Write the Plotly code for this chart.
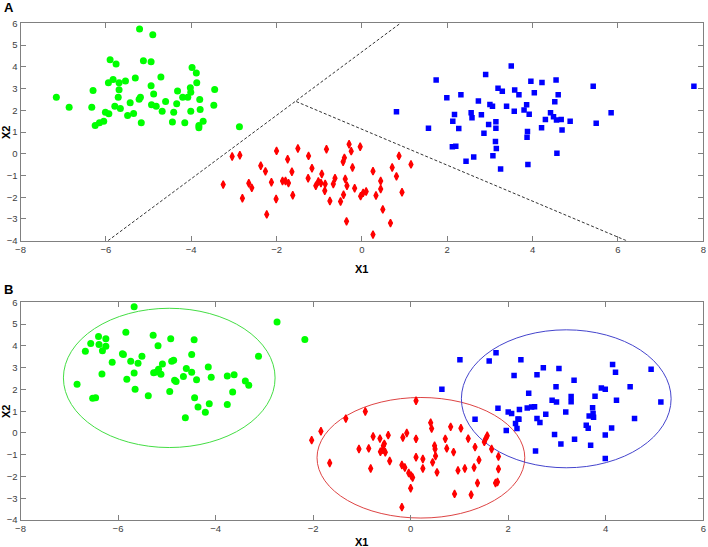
import plotly.graph_objects as go

# ---------------- Panel A data ----------------
a_green_x = [-7.16,-6.86,-6.30,-6.33,-6.25,-6.15,-6.05,-6.01,-5.93,-5.90,-5.76,-5.94,-5.83,-5.69,-5.54,-5.69,-5.71,-5.79,-5.66,-5.31,
             -5.43,-5.49,-5.35,-5.21,-4.90,-5.12,-4.94,-5.19,-5.22,-5.17,-4.94,-4.88,-4.93,-4.82,-4.71,-4.68,-4.60,-4.44,-4.41,-4.34,
             -4.32,-4.20,-4.15,-4.08,-4.02,-4.01,-3.98,-3.88,-3.87,-4.01,-3.80,-3.79,-3.72,-3.82,-3.82,-3.45,-3.47,-2.87]
a_green_y = [2.60,2.14,2.91,2.14,1.30,1.43,1.50,1.91,1.84,4.32,4.13,3.26,3.41,3.27,3.35,2.94,2.60,2.19,2.08,3.48,
             2.34,1.76,1.85,5.74,5.47,4.28,4.23,2.60,2.51,1.43,3.13,2.75,2.25,2.19,3.53,1.96,2.40,1.46,1.91,2.30,
             2.89,2.60,1.43,2.60,3.03,2.83,3.97,3.71,3.26,1.96,2.49,2.04,1.50,1.30,1.20,2.95,2.23,1.24]

a_red_x = [-3.25,-3.04,-2.86,-2.80,-2.65,-2.58,-2.37,-2.26,-2.23,-2.12,-2.00,-2.01,-1.86,-1.79,-1.72,-1.74,-1.64,-1.62,-1.50,-1.25,
           -1.17,-1.26,-1.08,-1.02,-0.94,-0.96,-0.86,-0.87,-0.83,-0.75,-0.67,-0.63,-0.50,-0.44,-0.41,-0.39,-0.43,-0.35,-0.30,-0.25,
           -0.22,-0.36,-0.17,-0.04,-0.03,0.03,0.10,0.26,0.33,0.26,0.44,0.44,0.49,0.67,0.71,0.81,0.87,0.94,1.15]
a_red_y = [-1.42,-0.13,-0.07,-2.05,-1.36,-1.57,-0.55,-0.81,-2.79,-1.31,0.13,-2.08,-1.25,-1.25,-1.35,-0.25,-0.83,-1.91,0.24,-0.10,
           -0.67,-1.13,-1.47,-1.28,-0.93,-1.35,-1.39,-1.70,0.21,-2.17,-1.39,-1.13,-2.20,-0.37,-0.19,-1.16,-1.89,-1.47,0.44,0.12,
           -0.63,-3.11,-1.59,0.32,-1.95,-1.80,-1.74,-0.80,-1.92,-3.72,-1.25,-1.62,-2.56,-3.19,-0.63,-1.04,-0.10,-1.77,-0.49]

a_blue_x = [0.81,1.56,1.74,1.99,2.13,2.17,2.27,2.12,2.20,2.32,2.44,2.62,2.56,2.58,2.73,2.80,2.90,2.86,2.97,3.00,
            3.06,3.07,3.14,3.14,3.13,3.15,3.19,3.29,3.25,3.39,3.50,3.58,3.57,3.68,3.80,3.86,3.92,3.88,3.87,3.89,
            3.96,4.04,4.22,4.21,4.30,4.42,4.49,4.56,4.67,4.52,4.60,4.55,4.69,4.57,4.88,5.42,5.49,5.84,7.78]
a_blue_y = [1.93,1.17,3.39,2.57,1.50,1.81,1.16,0.32,0.35,2.71,-0.35,-0.15,1.88,1.66,2.43,1.79,3.65,0.94,1.34,2.26,
            2.19,-0.09,1.47,1.17,0.56,0.24,3.01,2.87,-0.70,2.19,4.04,2.93,1.96,2.71,2.01,2.25,1.82,1.02,0.76,-0.50,
            3.34,2.81,3.28,1.20,1.57,1.88,1.70,1.55,1.58,2.39,2.71,3.39,1.09,0.02,1.50,3.10,1.40,1.88,3.10]

# decision boundaries (panel A)
boundary1_x = [-5.95, 0.90]
boundary1_y = [-4.0, 6.0]
boundary2_x = [-1.54, 6.20]
boundary2_y = [2.40, -4.0]

# ---------------- Panel B data ----------------
b_green_x = [-6.84,-6.67,-6.56,-6.52,-6.46,-6.40,-6.39,-6.32,-6.25,-6.25,-6.33,-6.12,-5.91,-5.89,-5.84,-5.82,-5.74,-5.67,-5.67,-5.65,
             -5.59,-5.51,-5.38,-5.28,-5.18,-5.27,-5.21,-5.17,-5.12,-5.09,-4.92,-4.90,-4.86,-4.94,-4.84,-4.81,-4.66,-4.60,-4.62,-4.49,
             -4.49,-4.44,-4.43,-4.39,-4.36,-4.21,-4.15,-4.13,-4.09,-3.76,-3.76,-3.65,-3.62,-3.39,-3.32,-3.12,-2.74,-2.17]
b_green_y = [2.24,3.76,4.11,1.59,1.62,4.43,4.07,3.78,4.33,3.98,2.71,3.25,3.64,3.60,4.63,2.47,3.29,5.80,2.76,2.01,
             3.20,3.53,1.71,4.49,4.01,2.77,2.80,2.93,2.70,3.17,4.33,3.29,3.34,1.91,2.42,2.36,2.59,2.96,0.70,3.61,
             2.79,4.28,1.62,2.45,1.19,0.95,3.03,1.34,2.56,2.62,1.31,1.88,2.68,2.39,2.19,3.52,5.10,4.30]

b_red_x = [-2.03,-1.84,-1.66,-1.33,-0.93,-1.06,-0.86,-0.82,-0.77,-0.63,-0.62,-0.56,-0.54,-0.57,-0.52,-0.46,-0.43,-0.18,-0.16,-0.08,
           -0.12,-0.04,0.01,0.04,0.00,-0.18,0.11,0.11,0.11,0.25,0.25,0.41,0.43,0.49,0.50,0.51,0.45,0.54,0.71,0.74,
           0.82,0.88,0.97,0.90,1.03,1.11,1.18,1.24,1.30,1.32,1.37,1.40,1.51,1.54,1.57,1.66,1.80,1.80,1.74,1.78]
b_red_y = [-0.33,0.08,-1.38,0.66,0.99,-0.74,-0.71,-1.63,-0.16,-0.26,-0.86,-0.59,-0.50,-0.77,-0.89,-0.10,-1.29,-1.47,-0.21,0.00,
           -1.59,-1.84,-1.96,-2.05,-2.54,-3.41,1.48,-0.27,-1.12,-1.20,-1.63,0.47,0.20,-0.59,-0.74,-1.06,-1.35,-1.81,-0.27,-0.71,
           0.28,-0.88,-1.72,-2.80,0.22,-1.63,-0.26,-2.84,-1.59,-0.65,-2.30,-1.24,-0.41,-0.26,-0.13,-0.74,-1.08,-1.66,-2.30,-2.25]

b_blue_x = [0.64,1.01,1.32,1.61,1.75,1.79,1.96,2.00,2.07,2.12,2.15,2.18,2.20,2.22,2.23,2.26,2.39,2.42,2.48,2.54,
            2.59,2.59,2.65,2.56,2.72,2.77,2.90,2.95,2.98,2.99,3.04,3.08,3.18,3.29,3.29,3.35,3.36,3.60,3.64,3.66,
            3.69,3.73,3.74,3.75,3.78,3.91,3.99,3.99,3.99,4.12,4.14,4.20,4.22,4.50,4.59,4.93,5.13]
b_blue_y = [2.01,3.37,0.63,3.31,3.69,1.13,0.11,0.96,0.89,2.64,0.43,0.20,0.64,0.63,1.08,3.37,1.15,1.83,1.19,1.21,
            2.68,0.67,0.48,-0.83,3.00,0.86,1.50,-0.07,2.12,1.42,2.96,-0.51,0.96,1.68,1.43,2.42,-0.29,0.35,0.22,0.78,
            -0.56,1.16,0.90,0.72,1.69,2.07,2.01,-0.09,-1.17,0.23,3.15,2.79,1.50,2.12,0.66,2.93,1.42]

# cluster ellipses (panel B): centre x, centre y, semi-axis x, semi-axis y
ellipse_names = ["green", "red", "blue"]
ellipse_cx = [-4.95, 0.21, 3.19]
ellipse_cy = [2.53, -1.14, 1.57]
ellipse_rx = [2.17, 2.13, 2.15]
ellipse_ry = [3.20, 2.77, 3.17]
ellipse_colors = ["#44dd44", "#dd4444", "#4444cc"]

x_ticks_a = list(range(-8, 9, 2))
x_ticks_b = list(range(-8, 7, 2))
y_ticks = list(range(-4, 7, 1))

GREEN = "#00ff00"
RED = "#ff0000"
BLUE = "#0000ff"

fig = go.Figure()

def add_points(x, y, color, symbol, size, xa, ya, lw=0):
    fig.add_trace(go.Scatter(x=x, y=y, mode="markers", xaxis=xa, yaxis=ya,
                             marker=dict(color=color, symbol=symbol, size=size,
                                         line=dict(width=lw, color=color)),
                             showlegend=False, hoverinfo="x+y"))

add_points(a_green_x, a_green_y, GREEN, "circle", 7, "x", "y")
add_points(a_red_x, a_red_y, RED, "diamond-tall", 5.6, "x", "y", 1.3)
add_points(a_blue_x, a_blue_y, BLUE, "square", 5.5, "x", "y")

for bx, by in [(boundary1_x, boundary1_y), (boundary2_x, boundary2_y)]:
    fig.add_trace(go.Scatter(x=bx, y=by, mode="lines", xaxis="x", yaxis="y",
                             line=dict(color="#333333", width=1, dash="3px,2px"),
                             showlegend=False, hoverinfo="skip"))

add_points(b_green_x, b_green_y, GREEN, "circle", 7, "x2", "y2")
add_points(b_red_x, b_red_y, RED, "diamond-tall", 5.6, "x2", "y2", 1.3)
add_points(b_blue_x, b_blue_y, BLUE, "square", 5.5, "x2", "y2")

for cx, cy, rx, ry, col in zip(ellipse_cx, ellipse_cy, ellipse_rx, ellipse_ry, ellipse_colors):
    fig.add_shape(type="circle", xref="x2", yref="y2",
                  x0=cx - rx, x1=cx + rx, y0=cy - ry, y1=cy + ry,
                  line=dict(color=col, width=1), layer="below")

W, H = 708, 547
def px_x(p):
    return p / W
def px_y(p):
    return 1 - p / H

axis_common = dict(showgrid=False, zeroline=False, showline=True, linecolor="#808080", linewidth=1,
                   mirror="ticks", ticks="inside", ticklen=5, tickcolor="#808080", tickwidth=1,
                   tickfont=dict(family="Liberation Sans, Arial, sans-serif", size=9.5, color="#404040"),
                   automargin=False)

xdom = [px_x(20.5), px_x(703.3)]
fig.update_layout(
    width=W, height=H,
    margin=dict(l=0, r=0, t=0, b=0),
    paper_bgcolor="white", plot_bgcolor="white",
    showlegend=False,
    xaxis=dict(domain=xdom, range=[-8, 8], tickvals=x_ticks_a, anchor="y", **axis_common),
    yaxis=dict(domain=[px_y(240.7), px_y(23.3)], range=[-4, 6], tickvals=y_ticks, anchor="x", **axis_common),
    xaxis2=dict(domain=xdom, range=[-8, 6], tickvals=x_ticks_b, anchor="y2", **axis_common),
    yaxis2=dict(domain=[px_y(520.0), px_y(302.4)], range=[-4, 6], tickvals=y_ticks, anchor="x2", **axis_common),
)

title_font = dict(family="Liberation Sans, Arial, sans-serif", size=11, color="#000000")
annotations = [
    dict(text="<b>A</b>", x=px_x(1.5), y=px_y(7.5), xanchor="left", yanchor="middle",
         font=dict(family="Liberation Sans, Arial, sans-serif", size=13, color="#000")),
    dict(text="<b>B</b>", x=px_x(1.5), y=px_y(289), xanchor="left", yanchor="middle",
         font=dict(family="Liberation Sans, Arial, sans-serif", size=13, color="#000")),
    dict(text="<b>X1</b>", x=px_x(361), y=px_y(268.5), xanchor="center", yanchor="middle", font=title_font),
    dict(text="<b>X1</b>", x=px_x(361), y=px_y(541.5), xanchor="center", yanchor="middle", font=title_font),
    dict(text="<b>X2</b>", x=px_x(5.5), y=px_y(132.5), xanchor="center", yanchor="middle", textangle=-90, font=title_font),
    dict(text="<b>X2</b>", x=px_x(5.5), y=px_y(411.5), xanchor="center", yanchor="middle", textangle=-90, font=title_font),
]
for a in annotations:
    a.update(xref="paper", yref="paper", showarrow=False)
fig.update_layout(annotations=annotations)

fig.write_html("out.html",
               config={"displayModeBar": False},
               post_script="document.body.style.margin='0px';document.body.style.padding='0px';document.body.style.overflow='hidden';")
